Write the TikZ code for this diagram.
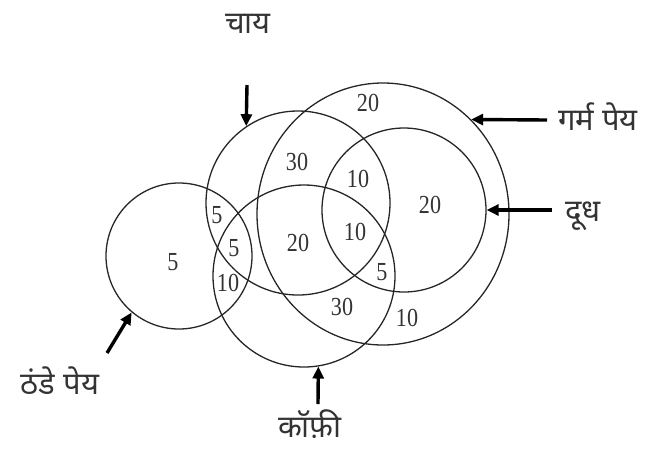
\documentclass[tikz,border=0pt]{standalone}
\usepackage{fontspec}
\setmainfont{Liberation Serif}
\newfontfamily\numfont[FakeStretch=0.85]{Liberation Serif}
\newfontfamily\deva[Script=Devanagari]{Noto Sans}
\usetikzlibrary{arrows.meta,shapes.geometric}
\begin{document}
\begin{tikzpicture}[x=1pt,y=-1pt,
  ring/.style={draw=black!85, line width=1.3pt, circle, inner sep=0pt},
  num/.style={font=\numfont\fontsize{26}{26}\selectfont, text=black!80, inner sep=0pt},
  lab/.style={font=\deva\fontsize{31}{31}\selectfont, text=black!80, inner sep=0pt},
  pointer/.style={-{Triangle[length=12pt,width=11pt]}, line width=3.4pt}]
\useasboundingbox (0,0) rectangle (653,448);
% sets
\node[ring, minimum size=146pt] (cold) at (179,256) {};
\node[ring, minimum size=184pt] (tea) at (298,203) {};
\node[ring, minimum size=182pt] (coffee) at (304,276) {};
\node[ring, ellipse, minimum width=252pt, minimum height=262pt] (hot) at (383,214) {};
\node[ring, minimum size=164pt] (milk) at (404,210) {};
% numbers
\node[num] (n1) at (368,103) {20};
\node[num] (n2) at (297,162) {30};
\node[num] (n3) at (358,179) {10};
\node[num] (n4) at (430,205) {20};
\node[num] (n5) at (173,262) {5};
\node[num] (n6) at (217,215) {5};
\node[num] (n7) at (234,248) {5};
\node[num] (n8) at (228,283) {10};
\node[num] (n9) at (298,243) {20};
\node[num] (n10) at (355,232) {10};
\node[num] (n11) at (382,272) {5};
\node[num] (n12) at (342,307) {30};
\node[num] (n13) at (407,318) {10};
% labels
\node[lab] (ltea) at (248,24) {चाय};
\node[lab] (lhot) at (598,117) {गर्म पेय};
\node[lab] (lmilk) at (583,216) {दूध};
\node[lab] (lcold) at (60,381) {ठंडे पेय};
\node[lab] (lcoffee) at (310,424) {कॉफ़ी};
% arrow tails
\coordinate (ttea) at (247,85);
\coordinate (thot) at (547,120);
\coordinate (tmilk) at (552,210);
\coordinate (tcold) at (107,353);
\coordinate (tcoffee) at (318,404);
\draw[pointer] (ttea) -- (tea.124);
\draw[pointer] (thot) -- (hot.47);
\draw[pointer] (tmilk) -- (milk.east);
\draw[pointer] (tcold) -- (cold.230);
\draw[pointer] (tcoffee) -- (coffee.279);
\end{tikzpicture}
\end{document}
